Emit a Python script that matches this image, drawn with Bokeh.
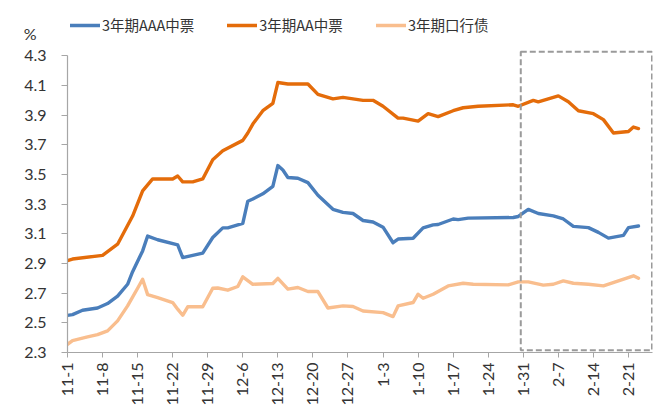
import datetime as dt
from bokeh.plotting import figure
from bokeh.models import (Range1d, FixedTicker, Legend, LegendItem, LinearAxis,
                          BoxAnnotation, PrintfTickFormatter)
from bokeh.embed import file_html
from bokeh.resources import INLINE

# ---------------- data ----------------
series_names = ["3年期AAA中票", "3年期AA中票", "3年期口行债"]

aaa_dates = ["11-1", "11-2", "11-4", "11-7", "11-9", "11-11", "11-13", "11-14", "11-16", "11-17",
             "11-19", "11-23", "11-24", "11-26", "11-28", "11-30", "12-2", "12-3", "12-6", "12-7",
             "12-8", "12-10", "12-12", "12-13", "12-14", "12-15", "12-17", "12-19", "12-21", "12-24",
             "12-26", "12-28", "12-30", "1-1", "1-3", "1-5", "1-6", "1-9", "1-11", "1-13",
             "1-14", "1-17", "1-18", "1-20", "1-29", "1-30", "2-1", "2-3", "2-6", "2-8",
             "2-10", "2-13", "2-15", "2-17", "2-20", "2-21", "2-23"]
aaa_vals = [2.55, 2.555, 2.585, 2.60, 2.63, 2.68, 2.76, 2.845, 2.985, 3.085,
            3.06, 3.025, 2.94, 2.955, 2.97, 3.075, 3.14, 3.14, 3.17, 3.32,
            3.335, 3.37, 3.42, 3.56, 3.53, 3.48, 3.475, 3.445, 3.36, 3.265,
            3.245, 3.237, 3.19, 3.18, 3.145, 3.04, 3.065, 3.07, 3.14, 3.16,
            3.163, 3.20, 3.196, 3.206, 3.21, 3.217, 3.265, 3.237, 3.221, 3.20,
            3.15, 3.142, 3.11, 3.071, 3.09, 3.142, 3.153]

aa_dates = ["11-1", "11-2", "11-8", "11-11", "11-14", "11-16", "11-18", "11-22", "11-23", "11-24",
            "11-26", "11-28", "11-30", "12-2", "12-6", "12-7", "12-8", "12-10", "12-12", "12-13",
            "12-15", "12-19", "12-21", "12-24", "12-26", "12-28", "12-30", "1-1", "1-3", "1-6",
            "1-7", "1-10", "1-12", "1-14", "1-17", "1-19", "1-22", "1-29", "1-30", "2-2",
            "2-3", "2-7", "2-9", "2-11", "2-14", "2-16", "2-18", "2-21", "2-22", "2-23"]
aa_vals = [2.92, 2.93, 2.955, 3.03, 3.22, 3.39, 3.47, 3.47, 3.49, 3.45,
           3.45, 3.47, 3.60, 3.66, 3.73, 3.78, 3.84, 3.93, 3.98, 4.12,
           4.11, 4.11, 4.04, 4.01, 4.02, 4.01, 4.00, 4.00, 3.96, 3.88,
           3.88, 3.86, 3.91, 3.89, 3.93, 3.95, 3.96, 3.97, 3.96, 4.00,
           3.99, 4.03, 3.99, 3.93, 3.91, 3.87, 3.78, 3.79, 3.82, 3.81]

pb_dates = ["11-1", "11-2", "11-5", "11-7", "11-9", "11-11", "11-13", "11-15", "11-16", "11-17",
            "11-19", "11-22", "11-23", "11-24", "11-25", "11-28", "11-30", "12-1", "12-3", "12-5",
            "12-6", "12-8", "12-12", "12-13", "12-15", "12-17", "12-19", "12-21", "12-23", "12-26",
            "12-28", "12-30", "1-3", "1-5", "1-6", "1-9", "1-10", "1-11", "1-13", "1-16",
            "1-19", "1-21", "1-28", "1-30", "2-1", "2-4", "2-6", "2-8", "2-10", "2-13",
            "2-16", "2-19", "2-22", "2-23"]
pb_vals = [2.355, 2.38, 2.405, 2.42, 2.446, 2.513, 2.614, 2.733, 2.794, 2.69,
           2.67, 2.637, 2.592, 2.551, 2.608, 2.608, 2.733, 2.735, 2.72, 2.745,
           2.81, 2.76, 2.765, 2.80, 2.727, 2.738, 2.711, 2.711, 2.60, 2.614,
           2.61, 2.58, 2.569, 2.542, 2.614, 2.637, 2.693, 2.666, 2.693, 2.749,
           2.767, 2.76, 2.756, 2.776, 2.776, 2.754, 2.76, 2.783, 2.767, 2.76,
           2.749, 2.783, 2.817, 2.80]

x_tick_labels = ["11-1", "11-8", "11-15", "11-22", "11-29", "12-6", "12-13", "12-20", "12-27",
                 "1-3", "1-10", "1-17", "1-24", "1-31", "2-7", "2-14", "2-21"]
y_ticks = [2.3, 2.5, 2.7, 2.9, 3.1, 3.3, 3.5, 3.7, 3.9, 4.1, 4.3]
unit_label = "%"

highlight_start = "1-31"
highlight_end = "2-26"

colors = ["#4A7EBB", "#E46C0A", "#F9BE8E"]

BASE = dt.date(2016, 11, 1)


def day_index(md):
    m, d = (int(s) for s in md.split("-"))
    year = 2016 if m >= 11 else 2017
    return (dt.date(year, m, d) - BASE).days


LABEL_FONT = "Lato"
CJK_FONT = "Noto Sans CJK SC"
Y_MIN, Y_MAX = y_ticks[0], y_ticks[-1]

p = figure(width=664, height=417, output_backend="svg", toolbar_location=None,
           title=None, title_location=None,
           x_range=Range1d(0, 116.8), y_range=Range1d(Y_MIN, 4.673),
           min_border_left=67, min_border_right=12, min_border_top=0, min_border_bottom=65)
p.outline_line_color = None
p.xgrid.visible = False
p.ygrid.visible = False
p.background_fill_color = "white"

renderers = []
for dates, vals, col in zip([aaa_dates, aa_dates, pb_dates], [aaa_vals, aa_vals, pb_vals], colors):
    xs = [day_index(d) for d in dates]
    r = p.line(xs, vals, line_color=col, line_width=3.4, line_join="round", line_cap="round")
    renderers.append(r)

# highlight box (dashed)
box = BoxAnnotation(left=day_index(highlight_start) - 0.5, right=day_index(highlight_end) - 0.3,
                    bottom=2.315, top=4.328, fill_alpha=0, line_color="#9a9a9a",
                    line_alpha=1.0, line_width=2, line_dash="6 3")
p.add_layout(box)

# axes
tick_pos = [day_index(s) for s in x_tick_labels]
p.xaxis.ticker = FixedTicker(ticks=tick_pos)
p.xaxis.major_label_overrides = {t: s for t, s in zip(tick_pos, x_tick_labels)}
p.xaxis.major_label_orientation = 3.14159265 / 2
p.xaxis.minor_tick_line_color = None
p.xaxis.major_tick_in = 0
p.xaxis.major_tick_out = 5
p.xaxis.major_label_standoff = 5
p.yaxis.ticker = FixedTicker(ticks=y_ticks)
p.yaxis.bounds = (Y_MIN, Y_MAX)
p.yaxis.formatter = PrintfTickFormatter(format="%.1f")
p.yaxis.minor_tick_line_color = None
p.yaxis.major_tick_in = 0
p.yaxis.major_tick_out = 6
p.yaxis.major_label_standoff = 15
for ax in (p.xaxis, p.yaxis):
    ax.axis_line_color = "#a6a6a6"
    ax.major_tick_line_color = "#a6a6a6"
    ax.axis_line_width = 1.2
    ax.major_label_text_font = LABEL_FONT
    ax.major_label_text_font_size = "16px"
    ax.major_label_text_color = "#333333"

# unit label "%" drawn as the only label of a second, line-less left axis
UNIT_POS = 4.45
unit_axis = LinearAxis(ticker=FixedTicker(ticks=[UNIT_POS]),
                       major_label_overrides={UNIT_POS: unit_label},
                       axis_line_color=None, major_tick_line_color=None,
                       minor_tick_line_color=None, major_tick_in=0, major_tick_out=0,
                       major_label_standoff=-15, major_label_text_font=LABEL_FONT,
                       major_label_text_font_size="16px", major_label_text_color="#333333")
p.add_layout(unit_axis, "left")

# legend
items = [LegendItem(label=n, renderers=[r]) for n, r in zip(series_names, renderers)]
legend = Legend(items=items, orientation="horizontal", location=(3, 317),
                padding=0, margin=0, spacing=33, glyph_width=30, glyph_height=20,
                label_height=20, label_standoff=2, border_line_color=None,
                background_fill_alpha=0, label_text_font=CJK_FONT,
                label_text_font_size="14.5px", label_text_color="#333333")
p.add_layout(legend, "center")

open("out.html", "w").write(file_html(p, INLINE))
